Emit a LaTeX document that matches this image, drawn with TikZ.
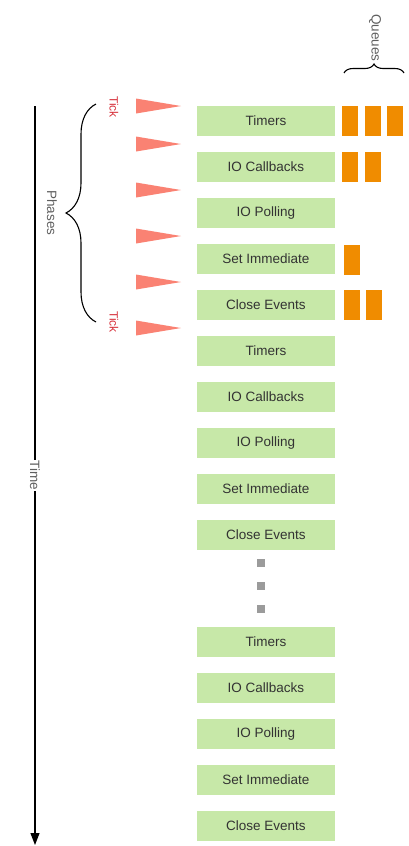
\documentclass[tikz,border=0pt]{standalone}
\usepackage{fontspec}
\setmainfont{Liberation Sans}
\usetikzlibrary{arrows.meta, decorations.pathreplacing}
\definecolor{phasegreen}{RGB}{199,232,168}
\definecolor{queueorange}{RGB}{240,140,0}
\definecolor{ticksalmon}{RGB}{250,130,115}
\definecolor{tickred}{RGB}{215,50,60}
\definecolor{labelgray}{RGB}{95,95,95}
\definecolor{dotgray}{RGB}{155,155,155}

\begin{document}
\begin{tikzpicture}[
x=1pt, y=-1pt,
phasenode/.style={rectangle, fill=phasegreen, minimum width=138pt, minimum height=30pt, inner sep=0pt, text=black!80, font=\fontsize{13.5}{16}\selectfont},
sidelabel/.style={rotate=-90, text=labelgray, font=\fontsize{13.5}{16}\selectfont},
ticklabel/.style={rotate=-90, text=tickred, font=\fontsize{12}{14}\selectfont},
bracket/.style={decorate, decoration={brace, amplitude=#1}, line width=1.1pt},
dotnode/.style={rectangle, fill=dotgray, minimum size=8pt, inner sep=0pt}
]
\useasboundingbox (0,0) rectangle (409,846);

%Phases, three rounds
\foreach \r/\y in {1/121, 2/351, 3/642}
  \foreach \i/\txt in {0/Timers, 1/IO Callbacks, 2/IO Polling, 3/Set Immediate, 4/Close Events}
    \node[phasenode] (p\r-\i) at (266,\y+46*\i) {\txt};

%Dots between rounds
\foreach \d/\y in {1/563, 2/586, 3/609}
  \node[dotnode] (dot\d) at (261,\y) {};

%Ticks
\foreach \y in {106,144,190,236,282,328}
  \fill[ticksalmon] (136,\y-7.5) -- (181,\y) -- (136,\y+7.5) -- cycle;
\node[ticklabel] (tick1) at (114,107) {Tick};
\node[ticklabel] (tick2) at (114,322) {Tick};

%Queues
\foreach \x/\y in {342/106, 365/106, 387/106, 342/152, 365/152, 344/245, 344/290, 366/290}
  \fill[queueorange] (\x,\y) rectangle ++(16,30);
\coordinate (qa) at (344,73);
\coordinate (qb) at (404,73);
\draw[bracket=9pt] (qa) -- (qb);
\node[sidelabel] (queues) at (375,38) {Queues};

%Phases brace
\coordinate (pa) at (96,322);
\coordinate (pb) at (96,104);
\draw[bracket=30pt] (pa) -- (pb);
\node[sidelabel] (phases) at (52,213) {Phases};

%Time axis
\coordinate (t0) at (35,106);
\coordinate (t1) at (35,845);
\draw[line width=1.2pt, -{Triangle[length=12pt, width=9pt]}] (t0) -- node[sidelabel, fill=white, inner sep=1pt] (time) {Time} (t1);
\end{tikzpicture}
\end{document}
